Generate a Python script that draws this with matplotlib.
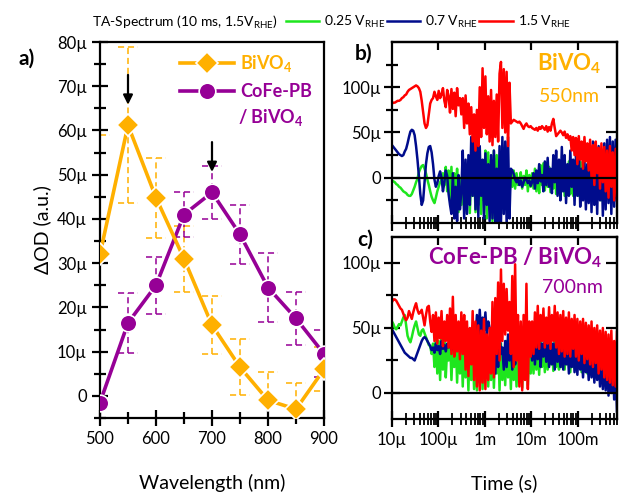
import numpy as np
import matplotlib
matplotlib.use('Agg')
import matplotlib.pyplot as plt
from matplotlib.ticker import FixedLocator, FuncFormatter, LogLocator, NullLocator, NullFormatter

plt.rcParams['font.family'] = ['Lato', 'DejaVu Sans']
plt.rcParams['mathtext.fontset'] = 'custom'
plt.rcParams['mathtext.rm'] = 'Lato'
plt.rcParams['mathtext.bf'] = 'Lato:bold'
plt.rcParams['axes.linewidth'] = 1.6

ORANGE = '#FFB000'
PURPLE = '#960096'
GREEN = '#1EE61E'
NAVY = '#000C8C'
RED = '#FF0000'

# TA spectra at 10 ms (values in micro-OD)
wavelength = [500, 550, 600, 650, 700, 750, 800, 850, 900]
bivo4 = [32, 61.2, 44.8, 31, 16, 6.5, -1, -3, 6]
bivo4_err = [27, 17.6, 9, 7.5, 6.5, 6.3, 6.5, 6, 5]
cofe = [-1.5, 16.5, 25, 41, 46, 36.5, 24.5, 17.5, 9.5]
cofe_err = [0, 6.8, 6.5, 5, 6, 6.7, 7.8, 6, 5.3]

# transient decays, shared log-spaced time base (s)
t = np.logspace(-5, np.log10(0.7), 160)

# BiVO4 @ 550 nm
b_red = [82, 83, 83, 84, 85, 85, 86, 88, 89, 91,
         92, 95, 97, 98, 99, 100, 101, 102, 101, 99,
         95, 85, 72, 60, 55, 58, 70, 82, 86, 88,
         95, 90, 86, 96, 88, 92, 99, 85, 78, 97,
         90, 72, 98, 76, 94, 68, 99, 80, 88, 70,
         88, 55, 91, 60, 82, 48, 78, 40, 70, 30,
         75, 35, 100, 45, 121, 55, 112, 48, 90, 40,
         97, 36, 85, 45, 92, 40, 115, 128, 55, 120,
         50, 117, 35, 105, 60, 62, 64, 63, 62, 61,
         62, 60, 57, 54, 58, 60, 57, 56, 57, 55,
         54, 53, 55, 52, 56, 54, 57, 55, 53, 57,
         51, 56, 52, 60, 65, 55, 46, 48, 50, 52,
         50, 47, 51, 44, 48, 42, 46, 30, 45, 25,
         44, 15, 46, 20, 40, 10, 45, 18, 38, 8,
         42, 0, 36, -8, 40, 5, 33, -12, 38, -5,
         34, -15, 30, -22, 35, -10, 28, -25, 32, -20]
b_blue = [36, 34, 32, 30, 28, 26, 25, 24, 25, 29,
          32, 38, 45, 51, 53, 52, 47, 35, 20, 2,
          -18, -30, -25, -5, 15, 27, 34, 35, 28, 15,
          -2, -10, -6, 2, 7, 0, -15, -5, 8, 2,
          -18, -30, -40, 5, -45, -10, -48, 3, -35, -15,
          30, -45, 20, -40, 25, -30, 45, -20, 56, -35,
          40, -43, 35, -20, 20, -45, 27, -30, 15, -48,
          25, -45, 30, -50, 10, -48, 35, -50, 45, -40,
          40, -50, 45, -45, 10, 8, 4, -2, -5, -1,
          -8, -3, -10, -5, 0, -2, -6, -3, -9, -5,
          5, -12, 8, -6, 15, -4, 3, -15, 18, -8,
          22, -10, 10, -17, 25, -5, 30, -20, 20, -25,
          34, -15, 25, -28, 15, -20, 30, -10, 20, -30,
          25, -20, 35, -32, 10, -25, 20, -35, 15, -28,
          28, -38, 40, -30, 20, -40, 35, -25, 30, -42,
          38, -35, 42, -28, 45, -40, 40, -32, 42, -25]
b_green = [-3, -4, -5, -7, -8, -10, -11, -13, -15, -16,
           -17, -19, -20, -20, -18, -14, -10, -5, -1, 6,
           10, 13, 14, 10, 5, -2, -8, -15, -21, -25,
           -28, -22, -15, -10, -5, -2, 5, -8, 12, -15,
           8, -25, 12, -35, 5, -20, 10, -38, 0, -30,
           8, -35, 12, -25, 5, -39, 10, -20, 15, -38,
           5, -30, 12, -40, 8, -25, 30, -45, 28, -35,
           20, -48, 30, -30, 25, -45, 18, -40, 20, -30,
           15, -35, 10, -20, 5, -10, 8, -12, 5, -8,
           -4, 6, -12, 2, -8, 8, -15, 3, -10, 5,
           -12, 10, -15, 5, -17, 14, -8, 16, -14, 10,
           -10, 12, -16, 8, -12, 15, -18, 6, -10, 12,
           -15, 10, -20, 14, -12, 18, -18, 8, -20, 15,
           -15, 12, -20, 18, -10, 14, -22, 10, -18, 16,
           -20, 12, -15, 18, -22, 10, -18, 14, -25, 12,
           -20, 15, -18, 10, -25, 14, -20, 12, -22, 10]

# CoFe-PB / BiVO4 @ 700 nm
c_red = [70, 72, 72, 71, 69, 67, 65, 64, 61, 58,
         56, 58, 63, 60, 57, 62, 66, 69, 64, 61,
         62, 64, 58, 52, 60, 66, 67, 55, 47, 60,
         40, 62, 38, 58, 42, 63, 36, 55, 40, 60,
         35, 65, 30, 74, 28, 60, 32, 55, 26, 62,
         30, 60, 18, 55, 13, 50, 22, 63, 10, 55,
         5, 52, 2, 48, 8, 57, 3, 45, 10, 50,
         15, 70, 12, 73, 30, 85, 25, 95, 40, 84,
         45, 80, 48, 70, 30, 90, 20, 99, 25, 60,
         5, 55, 2, 60, 10, 84, 3, 55, 28, 55,
         30, 62, 35, 67, 34, 60, 40, 65, 35, 58,
         38, 66, 34, 60, 40, 67, 35, 62, 30, 60,
         32, 63, 28, 58, 30, 62, 28, 57, 34, 60,
         28, 57, 25, 55, 30, 57, 23, 54, 26, 52,
         22, 55, 20, 50, 23, 52, 15, 48, 18, 50,
         12, 47, 10, 45, 8, 48, 6, 40, 5, 47]
c_blue = [49, 47, 45, 43, 41, 39, 37, 35, 33, 31,
          30, 29, 28, 27, 27, 26, 25, 28, 31, 34,
          37, 40, 42, 43, 42, 40, 38, 36, 33, 35,
          31, 38, 33, 36, 30, 40, 34, 37, 32, 38,
          35, 42, 33, 45, 30, 40, 36, 44, 32, 41,
          34, 45, 30, 43, 36, 48, 33, 46, 52, 38,
          60, 40, 64, 45, 58, 48, 62, 44, 55, 50,
          49, 25, 45, 15, 40, 20, 48, 30, 35, 18,
          40, 20, 45, 25, 38, 18, 42, 22, 35, 28,
          40, 23, 38, 27, 42, 24, 36, 30, 41, 25,
          43, 22, 40, 26, 44, 20, 38, 28, 42, 24,
          40, 20, 44, 22, 38, 18, 42, 24, 36, 20,
          40, 18, 37, 22, 39, 15, 35, 20, 38, 16,
          36, 14, 38, 18, 33, 12, 35, 16, 30, 10,
          34, 12, 30, 8, 32, 10, 28, 5, 30, 3,
          26, 2, 28, -2, 22, 0, 25, -5, 20, -14]
c_green = [55, 53, 50, 49, 51, 53, 52, 55, 58, 60,
           52, 44, 41, 39, 43, 48, 52, 55, 50, 45,
           44, 48, 49, 46, 43, 40, 37, 36, 30, 38,
           20, 45, 15, 40, 10, 42, 18, 47, 12, 35,
           25, 44, 10, 38, 20, 45, 8, 40, 15, 42,
           5, 40, 12, 35, 2, 42, 10, 38, 3, 40,
           2, 38, 8, 42, 3, 36, 12, 40, 5, 38,
           10, 40, 4, 35, 15, 42, 2, 38, 10, 33,
           6, 40, 12, 36, 3, 38, 10, 30, 5, 35,
           8, 38, 4, 36, 12, 40, 6, 34, 15, 38,
           15, 40, 18, 36, 14, 42, 20, 38, 16, 40,
           18, 42, 22, 38, 17, 40, 20, 36, 18, 42,
           20, 40, 18, 38, 22, 42, 16, 38, 20, 40,
           18, 38, 20, 36, 16, 40, 18, 35, 15, 38,
           16, 36, 14, 38, 12, 35, 15, 32, 10, 36,
           12, 34, 10, 38, 8, 40, 6, 35, 5, 33]

potentials = ['0.25 V$_\\mathrm{RHE}$', '0.7 V$_\\mathrm{RHE}$', '1.5 V$_\\mathrm{RHE}$']
time_labels = {1e-5: '10µ', 1e-4: '100µ', 1e-3: '1m', 1e-2: '10m', 1e-1: '100m'}


def micro(v, pos):
    return '0' if v == 0 else f'{v:g}µ'


def dashed_errors(ax, x, y, err, color):
    dash = (0, (4, 2.5))
    for xi, yi, ei in zip(x, y, err):
        if ei <= 0:
            continue
        ax.vlines(xi, yi - ei, yi + ei, colors=color, lw=1.1, linestyles=dash, zorder=1)
        ax.hlines([yi - ei, yi + ei], xi - 18, xi + 18, colors=color, lw=1.1,
                  linestyles=dash, zorder=1)


fig = plt.figure(figsize=(6.25, 4.93), dpi=100)

# ---- a) spectra
ax = fig.add_axes([0.16, 0.1521, 0.3584, 0.7627])
dashed_errors(ax, wavelength, bivo4, bivo4_err, ORANGE)
dashed_errors(ax, wavelength, cofe, cofe_err, PURPLE)
ax.plot(wavelength, cofe, '-o', color=PURPLE, lw=2.6, ms=12, mec='white', mew=1.2,
        label='CoFe-PB', zorder=3)
ax.plot(wavelength, bivo4, '-D', color=ORANGE, lw=2.6, ms=11.5, mec='white', mew=1.2,
        label='BiVO$_\\mathbf{4}$', zorder=4)
ax.set_xlim(500, 900)
ax.set_ylim(-5, 80)
ax.xaxis.set_major_locator(FixedLocator([500, 600, 700, 800, 900]))
ax.xaxis.set_minor_locator(FixedLocator([550, 650, 750, 850]))
ax.yaxis.set_major_locator(FixedLocator(range(0, 81, 10)))
ax.yaxis.set_minor_locator(FixedLocator(range(-5, 80, 10)))
ax.yaxis.set_major_formatter(FuncFormatter(micro))
ax.tick_params(which='both', direction='inout', width=1.6, labelsize=12)
ax.tick_params(which='major', length=12)
ax.tick_params(which='minor', length=8)
ax.set_xlabel('Wavelength (nm)', fontsize=14, labelpad=19)
ax.set_ylabel('ΔOD (a.u.)', fontsize=14, labelpad=4)

# arrows marking the two maxima
for ys in (bivo4, cofe):
    i = int(np.argmax(ys))
    ax.annotate('', xy=(wavelength[i], ys[i] + 4), xytext=(wavelength[i], ys[i] + 12),
                arrowprops=dict(arrowstyle='-|>', color='black', lw=1.6,
                                mutation_scale=14), zorder=5)

h, l = ax.get_legend_handles_labels()
leg = ax.legend(h[::-1], l[::-1], loc='upper left', bbox_to_anchor=(0.31, 1.0),
                frameon=False, handlelength=3.0, handletextpad=0.3, labelspacing=0.5,
                borderaxespad=0.2, prop={'weight': 'bold', 'size': 13},
                labelcolor='linecolor')
ax.text(0.615, 0.80, '/ BiVO$_\\mathbf{4}$', transform=ax.transAxes, color=PURPLE,
        fontsize=13, fontweight='bold', va='center', ha='left')


# ---- b), c) decays
def decay_axes(rect, ylim, minor, right_ticks, traces):
    a = fig.add_axes(rect)
    for ys, c in zip(traces, (GREEN, NAVY, RED)):
        a.plot(t, ys, color=c, lw=1.8)
    a.axhline(0, color='black', lw=1.6, zorder=5)
    a.set_xscale('log')
    a.set_xlim(1e-5, 0.7)
    a.set_ylim(*ylim)
    a.xaxis.set_major_locator(FixedLocator(list(time_labels)))
    a.xaxis.set_minor_locator(LogLocator(base=10, subs=np.arange(2, 10), numticks=20))
    a.xaxis.set_minor_formatter(NullFormatter())
    a.xaxis.set_major_formatter(FuncFormatter(lambda v, p: time_labels.get(v, '')))
    a.yaxis.set_major_locator(FixedLocator([0, 50, 100]))
    a.yaxis.set_minor_locator(FixedLocator(minor))
    a.yaxis.set_major_formatter(FuncFormatter(micro))
    a.tick_params(which='both', direction='inout', width=1.6, labelsize=12)
    a.tick_params(axis='x', which='major', length=11)
    a.tick_params(axis='x', which='minor', length=8, width=1.3)
    a.tick_params(axis='y', which='major', length=12, pad=2)
    a.tick_params(axis='y', which='minor', length=8)
    top = a.secondary_xaxis('top')
    top.set_xticks([1e-4, 1e-3, 1e-2, 1e-1])
    top.xaxis.set_minor_locator(NullLocator())
    top.tick_params(direction='in', length=6, width=1.6, labeltop=False)
    right = a.secondary_yaxis('right')
    right.set_yticks(right_ticks)
    right.yaxis.set_minor_locator(NullLocator())
    right.tick_params(direction='in', length=8, width=1.6, labelright=False)
    return a


axb = decay_axes([0.6272, 0.5477, 0.36, 0.3671], (-50, 150), [-25, 25, 75, 125],
                 [50, 100], [b_green, b_blue, b_red])
axb.tick_params(axis='x', labelbottom=False)
axb.text(0.79, 0.88, 'BiVO$_\\mathbf{4}$', transform=axb.transAxes, color=ORANGE,
         fontsize=16, fontweight='bold', ha='center', va='center')
axb.text(0.79, 0.70, '550nm', transform=axb.transAxes, color=ORANGE,
         fontsize=14, ha='center', va='center')

axc = decay_axes([0.6272, 0.1501, 0.36, 0.3692], (-20, 120), [25, 75],
                 [50, 100], [c_green, c_blue, c_red])
axc.set_xlabel('Time (s)', fontsize=14, labelpad=19)
axc.text(0.547, 0.885, 'CoFe-PB / BiVO$_\\mathbf{4}$', transform=axc.transAxes,
         color=PURPLE, fontsize=16, fontweight='bold', ha='center', va='center')
axc.text(0.80, 0.725, '700nm', transform=axc.transAxes, color=PURPLE,
         fontsize=14, ha='center', va='center')

# panel letters, header and potential legend
fig.text(27 / 625, 1 - 59 / 493, 'a)', fontsize=15, fontweight='bold', ha='center', va='center')
fig.text(364 / 625, 1 - 54 / 493, 'b)', fontsize=15, fontweight='bold', ha='center', va='center')
fig.text(365 / 625, 1 - 240 / 493, 'c)', fontsize=15, fontweight='bold', ha='center', va='center')
fig.text(92 / 625, 1 - 22 / 493, 'TA-Spectrum (10 ms, 1.5V$_\\mathrm{RHE}$)', fontsize=10,
         ha='left', va='center')
fig.legend(axb.lines[:3], potentials, loc='center left',
           bbox_to_anchor=(286 / 625, 1 - 22 / 493), ncol=3, frameon=False,
           fontsize=10, handlelength=2.4, handletextpad=0.35, columnspacing=0.1,
           borderaxespad=0, borderpad=0)

fig.savefig('out.png', dpi=100)
